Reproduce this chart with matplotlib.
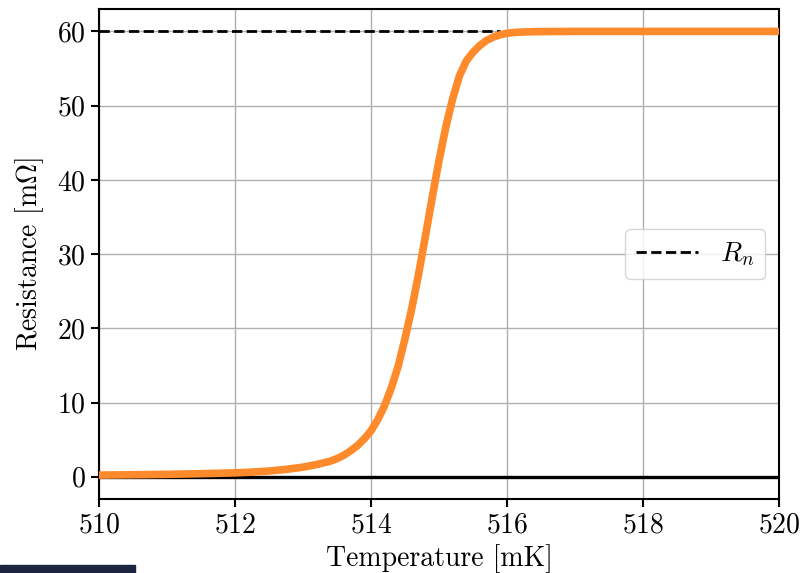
import matplotlib
matplotlib.use("Agg")
import matplotlib.pyplot as plt
from matplotlib.patches import Rectangle

plt.rcParams['font.family'] = ['cmr10', 'DejaVu Serif']
plt.rcParams['mathtext.fontset'] = 'cm'
plt.rcParams['axes.formatter.use_mathtext'] = True
plt.rcParams['font.size'] = 20

# Data
temperature = [510.0, 510.5, 511.0, 511.5, 512.0, 512.25, 512.5, 512.75, 513.0,
               513.2, 513.4, 513.5, 513.6, 513.7, 513.8, 513.9, 514.0, 514.1,
               514.2, 514.3, 514.4, 514.5, 514.6, 514.7, 514.8, 514.9, 515.0,
               515.1, 515.2, 515.3, 515.4, 515.5, 515.6, 515.7, 515.8, 515.9,
               516.0, 516.1, 516.25, 516.5, 517.0, 518.0, 519.0, 520.0]
resistance = [0.23, 0.28, 0.33, 0.42, 0.53, 0.63, 0.78, 1.0, 1.3,
              1.65, 2.1, 2.45, 2.9, 3.5, 4.2, 5.1, 6.2, 7.7,
              9.6, 12.0, 14.9, 18.6, 22.7, 27.3, 32.4, 37.6, 42.6,
              47.1, 50.9, 54.0, 56.0, 57.2, 58.1, 58.8, 59.25, 59.55,
              59.75, 59.85, 59.93, 59.98, 60.0, 60.0, 60.0, 60.0]
R_n = 60.0
rn_T_start, rn_T_end = 510.0, 515.9
xticks = [510, 512, 514, 516, 518, 520]
yticks = [0, 10, 20, 30, 40, 50, 60]

fig = plt.figure(figsize=(8.04, 5.73), dpi=100)
ax = fig.add_axes([0.123, 0.129, 0.846, 0.855])

ax.axhline(0, color='black', lw=2.4, zorder=2)
ax.hlines(R_n, rn_T_start, rn_T_end, colors='black', linestyles='--', lw=2.0,
          label=r'$R_n$', zorder=3)
ax.plot(temperature, resistance, color='#fe8a2c', lw=5.5, zorder=4,
        solid_capstyle='butt', solid_joinstyle='round')

ax.set_xlim(510, 520)
ax.set_ylim(-3, 63)
ax.set_xticks(xticks)
ax.set_yticks(yticks)
ax.grid(True, color='#b0b0b0', lw=1.0)
ax.set_axisbelow(True)
for s in ax.spines.values():
    s.set_linewidth(1.5)
ax.tick_params(direction='out', length=6, width=1.5)

ax.set_xlabel('Temperature [mK]', labelpad=4)
ax.set_ylabel(r'Resistance [m$\Omega$]', labelpad=8)

ax.legend(loc='center right', handlelength=2.2, borderaxespad=0.5)

fig.patches.append(Rectangle((0, 0), 135 / 804, 8 / 573, transform=fig.transFigure,
                             color='#1c2440', zorder=0))

fig.savefig('out.png', dpi=100)
